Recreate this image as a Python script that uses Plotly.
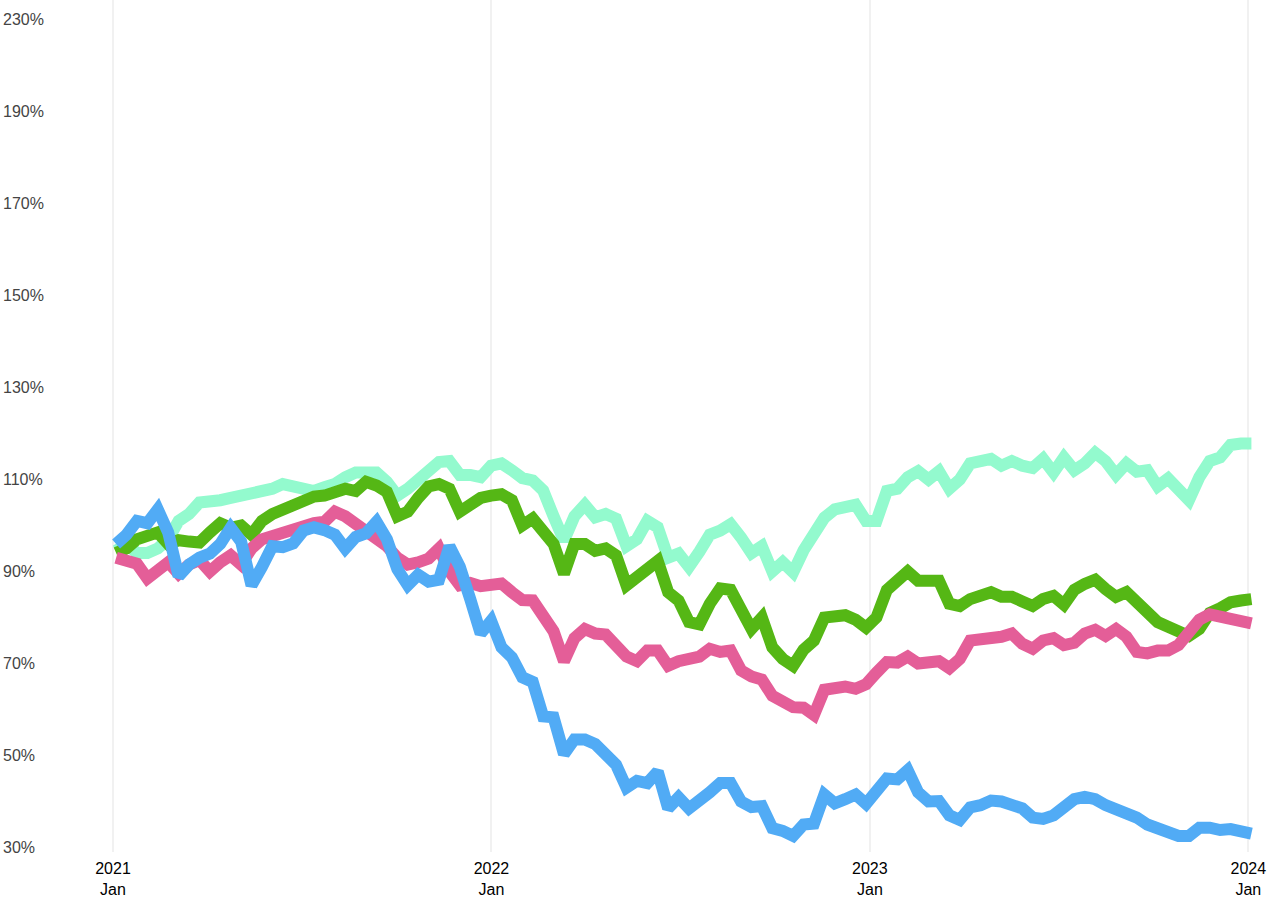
import pandas as pd
import plotly.graph_objects as go

# Observation dates: 110 evenly spaced points from 2021-01-04 to 2024-01-04
dates = pd.date_range("2021-01-04", "2024-01-04", periods=110)

mint = [94.5, 96, 94, 94, 95, 97, 101, 102.5, 105, 105,
        105.5, 106, 106.5, 106.5, 107, 108, 109, 108.5, 107.5, 107.5,
        108.3, 109, 110.5, 111.5, 111.5, 111.5, 109.5, 106.5, 108, 110,
        112.3, 113.8, 114, 111, 111, 110.5, 113, 113.5, 112, 110.3,
        109.8, 107.6, 102, 96.7, 102, 104.5, 101.8, 102.5, 101.5, 95.5,
        97, 101, 99.6, 93, 93.9, 91, 94.3, 98, 98.9, 100.3,
        97.4, 94, 95.5, 90, 92, 89.8, 94.6, 98.5, 101.7, 103.5,
        104, 104.5, 101, 101, 107.5, 108, 110.5, 111.8, 110, 111.8,
        108, 110, 113.5, 113.8, 114.5, 113, 114, 113, 112.5, 114.5,
        111.5, 114.8, 112, 113.5, 115.8, 114, 111, 113.5, 111.7, 112,
        108.5, 110.2, 107.5, 105.5, 110.5, 114, 114.8, 117.5, 117.8, 117.8]

green = [94, 95, 97, 97.5, 98.5, 96, 96.8, 96.5, 96.3, 98.5,
         100.5, 99.5, 100, 98, 101, 102.5, 103.5, 104.5, 105.5, 106.3,
         106.5, 107.2, 108, 107.5, 109.5, 108.7, 107.3, 102, 103, 106,
         108.5, 109, 108, 103, 104.5, 106, 106.5, 106.8, 105.5, 100,
         101.5, 98.5, 96, 89.5, 96, 96, 94.5, 95, 93.5, 87,
         88.7, 91, 92.3, 85.5, 83.7, 79, 78.5, 83, 86.3, 86,
         81, 77.5, 80, 73.5, 71, 69.5, 73, 75, 80, 80.5,
         80.5, 79.5, 77.8, 80, 86, 88, 90, 88, 87.8, 88,
         83, 82.5, 84, 84.5, 85.5, 84.5, 84.5, 83.5, 82.5, 84,
         84.7, 82.8, 86, 87.3, 88.2, 86.2, 84.5, 85.5, 83.5, 81.5,
         79, 78, 77, 76, 77.5, 81, 82, 83.3, 83.7, 84]

pink = [93, 92.2, 91.7, 88.5, 90.5, 92, 89.5, 91.5, 92.5, 90,
        92, 93.5, 91.5, 95, 97, 97.8, 98.5, 99, 99.8, 100.5,
        100.8, 103, 102, 100.5, 98.5, 97, 95.5, 93, 91.5, 92,
        92.8, 95, 90, 87, 87.5, 86.8, 87, 87.4, 85.5, 83.8,
        83.7, 80.5, 77, 70.5, 75.5, 77.5, 76.5, 76.3, 74, 71.5,
        70.5, 72.8, 72.8, 69.5, 70.5, 70.7, 71.5, 73.2, 72.5, 72.8,
        68.5, 67.2, 66.5, 63, 62, 60.5, 60.4, 58.8, 64.3, 64.8,
        65, 64.5, 65.5, 68, 70.3, 70.2, 71.5, 70, 70.5, 70.5,
        69, 71, 75, 75.2, 75.7, 75.8, 76.5, 74.3, 73.2, 75,
        75.5, 74, 74.5, 76.5, 77.3, 76, 77.5, 75.8, 72.5, 72.2,
        72.8, 72.8, 74, 77, 79.5, 80.7, 80.3, 79.5, 79, 78.7]

blue = [96, 98, 101, 100.5, 103.5, 98.5, 89, 91.5, 93, 93.9,
        96, 99.5, 96.5, 87, 91, 95.5, 95.3, 96.1, 98.9, 99.6,
        99, 98, 95, 97.5, 98.3, 100.8, 97, 90.5, 87, 89.3,
        87.8, 88.2, 95.5, 91, 84, 76.5, 79.3, 73.5, 71.3, 67,
        66, 58.5, 58.3, 50.3, 53.5, 53.5, 52.5, 50, 48, 43,
        44.5, 44, 46.5, 38.5, 40.9, 38.5, 40, 42, 44, 44,
        40, 38.8, 39, 34.2, 33.6, 32.5, 35, 35.2, 41.5, 39.6,
        40.5, 41.5, 39.5, 42, 45, 44.8, 46.8, 42, 40, 40.1,
        37, 36, 38.7, 39.2, 40.2, 40, 39.5, 38.5, 36.5, 36.2,
        37, 39, 40.5, 41, 40.5, 39.2, 38.4, 37.7, 36.5, 35,
        34.3, 33.7, 32.5, 32.5, 34.3, 34.3, 33.8, 34, 33.2, 33]

x_tick_vals = ["2021-01-01", "2022-01-01", "2023-01-01", "2024-01-01"]
x_tick_text = ["2021<br>Jan", "2022<br>Jan", "2023<br>Jan", "2024<br>Jan"]
y_tick_vals = [30, 50, 70, 90, 110, 130, 150, 170, 190, 210]
y_tick_text = ["30%", "50%", "70%", "90%", "110%", "130%", "150%", "170%", "190%", "230%"]

series = [
    ("mint", mint, "#93FACE"),
    ("green", green, "#55B715"),
    ("pink", pink, "#E45E98"),
    ("blue", blue, "#51ABF5"),
]

fig = go.Figure()
for name, vals, color in series:
    fig.add_trace(go.Scatter(
        x=dates, y=vals, mode="lines", name=name,
        line=dict(color=color, width=12, shape="linear"),
        showlegend=False,
    ))

fig.update_layout(
    width=1268, height=902,
    margin=dict(l=0, r=0, t=0, b=50),
    paper_bgcolor="white", plot_bgcolor="white",
    font=dict(family="Liberation Sans, Arial, sans-serif", size=16, color="#000000"),
)
fig.update_xaxes(
    range=["2020-09-14", "2024-01-20"],
    tickvals=x_tick_vals, ticktext=x_tick_text,
    showgrid=True, gridcolor="#f1f1f1", gridwidth=2,
    zeroline=False, showline=False, ticks="",
    ticklabelstandoff=5,
)
fig.update_yaxes(
    range=[29.02, 214.24],
    tickvals=y_tick_vals, ticktext=y_tick_text,
    ticklabelposition="inside", ticklabeloverflow="allow",
    showgrid=False, zeroline=False, showline=False, ticks="",
)

fig.write_html(
    "out.html",
    config={"displayModeBar": False},
    post_script="document.body.style.margin='0';document.body.style.overflow='hidden';",
)
